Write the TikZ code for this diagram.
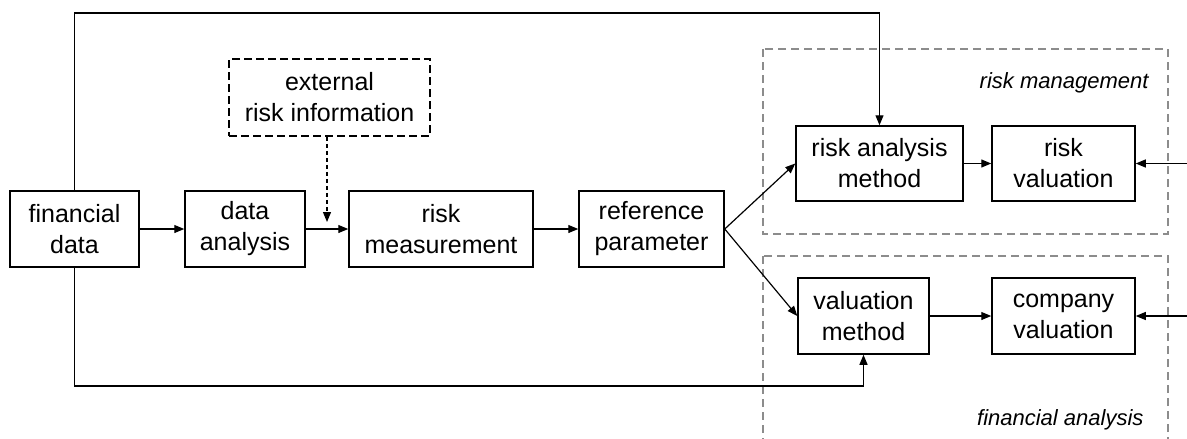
\documentclass[tikz,border=0pt]{standalone}
\usepackage{fontspec}
\setmainfont{Liberation Sans}
\usetikzlibrary{arrows.meta}
\begin{document}
\begin{tikzpicture}[x=1pt,y=-1pt,
  box/.style={draw=black,line width=1.5pt,align=center,inner sep=0pt,
    font=\fontsize{25}{31}\selectfont},
  extbox/.style={box,dash pattern=on 8pt off 4pt},
  grp/.style={draw=black!45,line width=1.3pt,dash pattern=on 8pt off 5pt},
  glabel/.style={font=\fontsize{22}{26}\selectfont\itshape,anchor=east},
  conn/.style={line width=1.2pt,-{Triangle[length=10pt,width=8pt]}},
  dconn/.style={conn,dash pattern=on 4pt off 3pt}]
\useasboundingbox (0,0) rectangle (1187,439);
\clip (0,0) rectangle (1187,439);
% groups
\draw[grp] (763,49) rectangle (1168,234);
\draw[grp] (763,256) rectangle (1168,460);
\node[glabel] (lrm) at (1152,83) {risk management};
\node[glabel] (lfa) at (1147,420) {financial analysis};
% nodes
\node[box,minimum width=129pt,minimum height=76pt] (fin) at (74.5,229) {financial\\data};
\node[box,minimum width=120pt,minimum height=76pt] (da) at (245,229) {data\\analysis};
\node[box,minimum width=184pt,minimum height=76pt] (rm) at (441,229) {risk\\measurement};
\node[box,minimum width=145pt,minimum height=76pt] (rp) at (651.5,229) {reference\\parameter};
\node[extbox,minimum width=201pt,minimum height=77pt] (ext) at (329.5,97.5) {external\\risk information};
\node[box,minimum width=167pt,minimum height=75pt] (ram) at (879.5,163.5) {risk analysis\\method};
\node[box,minimum width=143pt,minimum height=75pt] (rv) at (1063.5,163.5) {risk\\valuation};
\node[box,minimum width=131pt,minimum height=76pt] (vm) at (863.5,316) {valuation\\method};
\node[box,minimum width=143pt,minimum height=76pt] (cv) at (1063.5,316) {company\\valuation};
% free-end coordinates
\coordinate (extin) at (327,222);
\coordinate (rin1) at (1190,163.5);
\coordinate (rin2) at (1190,316);
% connectors
\draw[conn] (fin) -- (da);
\draw[conn] (da) -- (rm);
\draw[conn] (rm) -- (rp);
\draw[dconn] (ext.south -| extin) -- (extin);
\draw[conn] (rp.east) -- (ram.west);
\draw[conn] (rp.east) -- (vm.west);
\draw[conn] (ram) -- (rv);
\draw[conn] (vm) -- (cv);
\draw[conn] (rin1) -- (rv.east);
\draw[conn] (rin2) -- (cv.east);
\draw[conn] (fin.north) -- (74.5,13) -| (ram.north);
\draw[conn] (fin.south) -- (74.5,386) -| (vm.south);
\end{tikzpicture}
\end{document}
